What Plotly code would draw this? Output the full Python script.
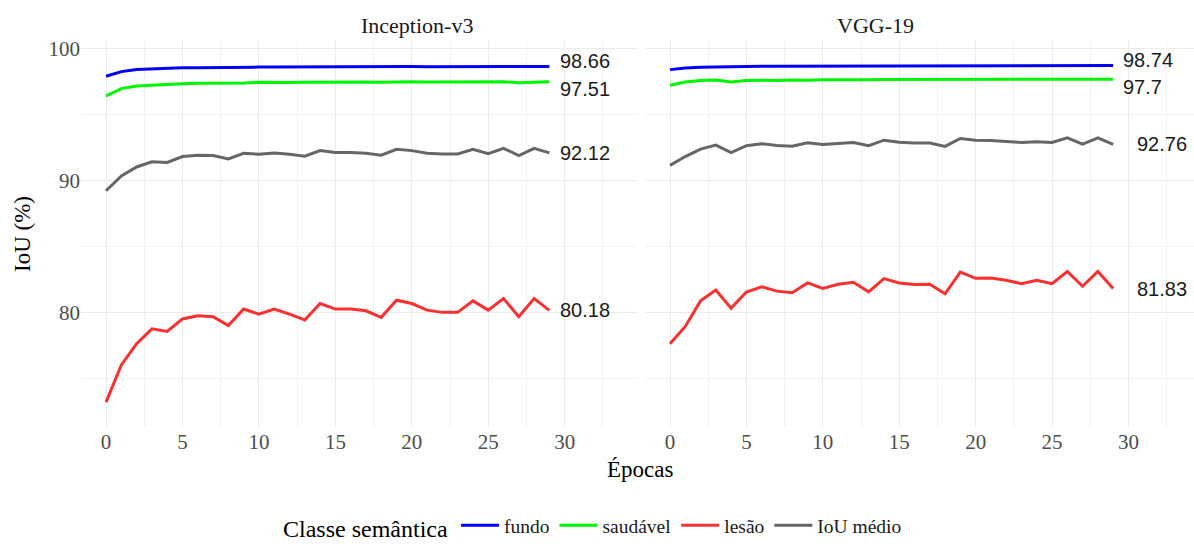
import plotly.graph_objects as go

epochs = list(range(30))
models = ["Inception-v3", "VGG-19"]
classes = ["fundo", "saudável", "lesão", "IoU médio"]

inc_fundo = [97.93, 98.28, 98.44, 98.50, 98.54, 98.57, 98.58, 98.60, 98.60, 98.61,
             98.62, 98.62, 98.63, 98.63, 98.64, 98.64, 98.64, 98.65, 98.64, 98.65,
             98.66, 98.64, 98.65, 98.66, 98.66, 98.66, 98.66, 98.65, 98.67, 98.66]
inc_saudavel = [96.44, 96.99, 97.19, 97.26, 97.31, 97.36, 97.40, 97.40, 97.38, 97.42,
                97.47, 97.44, 97.45, 97.48, 97.49, 97.48, 97.48, 97.50, 97.47, 97.50,
                97.52, 97.49, 97.50, 97.49, 97.50, 97.50, 97.51, 97.44, 97.50, 97.51]
inc_lesao = [73.23, 76.04, 77.66, 78.78, 78.58, 79.53, 79.78, 79.70, 79.03, 80.28,
             79.90, 80.28, 79.90, 79.45, 80.70, 80.28, 80.28, 80.15, 79.65, 80.95,
             80.70, 80.20, 80.03, 80.03, 80.90, 80.20, 81.07, 79.70, 81.07, 80.18]
inc_media = [89.25, 90.37, 91.05, 91.45, 91.39, 91.84, 91.94, 91.92, 91.66, 92.09,
             92.01, 92.11, 92.01, 91.87, 92.29, 92.14, 92.14, 92.09, 91.94, 92.39,
             92.29, 92.09, 92.04, 92.04, 92.39, 92.06, 92.46, 91.92, 92.46, 92.12]

vgg_fundo = [98.43, 98.56, 98.61, 98.64, 98.66, 98.67, 98.68, 98.69, 98.69, 98.70,
             98.71, 98.71, 98.71, 98.72, 98.72, 98.72, 98.72, 98.73, 98.72, 98.73,
             98.74, 98.73, 98.74, 98.74, 98.73, 98.74, 98.74, 98.73, 98.74, 98.74]
vgg_saudavel = [97.24, 97.49, 97.60, 97.64, 97.49, 97.60, 97.63, 97.60, 97.64, 97.62,
                97.66, 97.65, 97.66, 97.66, 97.68, 97.68, 97.66, 97.67, 97.65, 97.68,
                97.70, 97.69, 97.70, 97.68, 97.69, 97.70, 97.69, 97.68, 97.70, 97.70]
vgg_lesao = [77.66, 78.96, 80.90, 81.72, 80.35, 81.57, 81.97, 81.64, 81.52, 82.26,
             81.84, 82.16, 82.31, 81.59, 82.59, 82.26, 82.14, 82.16, 81.44, 83.08,
             82.61, 82.64, 82.46, 82.21, 82.46, 82.21, 83.13, 82.01, 83.13, 81.83]
vgg_media = [91.17, 91.84, 92.41, 92.71, 92.14, 92.66, 92.81, 92.68, 92.63, 92.89,
             92.76, 92.86, 92.91, 92.66, 93.08, 92.93, 92.86, 92.86, 92.61, 93.21,
             93.08, 93.06, 93.00, 92.91, 92.96, 92.91, 93.26, 92.78, 93.26, 92.76]

final_labels = {
    "Inception-v3": ["98.66", "97.51", "80.18", "92.12"],
    "VGG-19": ["98.74", "97.7", "81.83", "92.76"],
}

data = {
    "Inception-v3": [inc_fundo, inc_saudavel, inc_lesao, inc_media],
    "VGG-19": [vgg_fundo, vgg_saudavel, vgg_lesao, vgg_media],
}

# styles
colors = ["#0000F5", "#00F500", "#F83030", "#666666"]
label_shift = {
    "Inception-v3": [(9, 6), (9, -7), (9, 0), (9, 0)],
    "VGG-19": [(8, 6), (8, -8), (22, 0), (22, 0)],
}

W, H = 1194, 548
ML, MR, MT, MB = 81, 0, 41, 115
PW = W - ML - MR
PH = H - MT - MB

fig = go.Figure()
axes = [("x", "y"), ("x2", "y2")]
for mi, m in enumerate(models):
    xa, ya = axes[mi]
    for ci, c in enumerate(classes):
        fig.add_trace(go.Scatter(
            x=epochs, y=data[m][ci], mode="lines", name=c,
            line=dict(color=colors[ci], width=3),
            xaxis=xa, yaxis=ya, showlegend=(mi == 0), legendgroup=c,
        ))
        dx, dy = label_shift[m][ci]
        fig.add_annotation(
            x=epochs[-1], y=data[m][ci][-1], xref=xa, yref=ya,
            text=final_labels[m][ci], showarrow=False, xanchor="left",
            yanchor="middle", xshift=dx, yshift=dy,
            font=dict(family="Liberation Sans", size=20, color="#1a1a1a"),
        )

grid = "#EBEBEB"
tickfont = dict(family="Liberation Serif", size=21, color="#4D4D4D")
xcommon = dict(
    tickmode="linear", tick0=0, dtick=5, showgrid=True, gridcolor=grid, gridwidth=1.2,
    zeroline=False, showline=False, ticks="", tickfont=tickfont,
    minor=dict(tick0=0, dtick=2.5, showgrid=True, gridcolor="#F2F2F2", gridwidth=1),
)
ycommon = dict(
    tickmode="linear", tick0=0, dtick=10, showgrid=True, gridcolor=grid, gridwidth=1.2,
    zeroline=False, showline=False, ticks="", tickfont=tickfont, range=[71.34, 100.6],
    minor=dict(tick0=0, dtick=5, showgrid=True, gridcolor="#F2F2F2", gridwidth=1),
)

d1_end = (637 - ML) / PW
d2_start = (645 - ML) / PW
fig.update_layout(
    xaxis=dict(domain=[0, d1_end], range=[-1.64, 34.73], anchor="y", **xcommon),
    xaxis2=dict(domain=[d2_start, 1], range=[-1.636, 34.29], anchor="y2", **xcommon),
    yaxis=dict(domain=[0, 1], anchor="x", **ycommon),
    yaxis2=dict(domain=[0, 1], anchor="x2", showticklabels=False, **ycommon),
)

title_font = dict(family="Liberation Serif", size=22, color="#1a1a1a")
fig.add_annotation(x=(359 - ML) / PW, y=1 + (MT - 25) / PH, xref="paper", yref="paper",
                   text=models[0], showarrow=False, font=title_font, yanchor="middle")
fig.add_annotation(x=(916 - ML) / PW, y=1 + (MT - 25) / PH, xref="paper", yref="paper",
                   text=models[1], showarrow=False, font=title_font, yanchor="middle")
fig.add_annotation(x=(640 - ML) / PW, y=(433 - 476) / PH, xref="paper", yref="paper",
                   text="Épocas", showarrow=False, yanchor="middle",
                   font=dict(family="Liberation Serif", size=23, color="#000000"))
fig.add_annotation(x=(22 - ML) / PW, y=0.5, xref="paper", yref="paper",
                   text="IoU (%)", showarrow=False, textangle=-90, xanchor="center",
                   yanchor="middle",
                   font=dict(family="Liberation Serif", size=23, color="#000000"))

fig.update_layout(
    width=W, height=H,
    margin=dict(l=ML, r=MR, t=MT, b=MB),
    paper_bgcolor="white", plot_bgcolor="white",
    showlegend=True,
    legend=dict(
        orientation="h", x=(594 - ML) / PW, xanchor="center",
        y=(433 - 535) / PH, yanchor="middle",
        title=dict(text="Classe semântica", side="left",
                   font=dict(family="Liberation Serif", size=24, color="#000000")),
        font=dict(family="Liberation Serif", size=19.5, color="#1a1a1a"),
        itemwidth=38, tracegroupgap=0,
    ),
)

fig.write_html("out.html")
